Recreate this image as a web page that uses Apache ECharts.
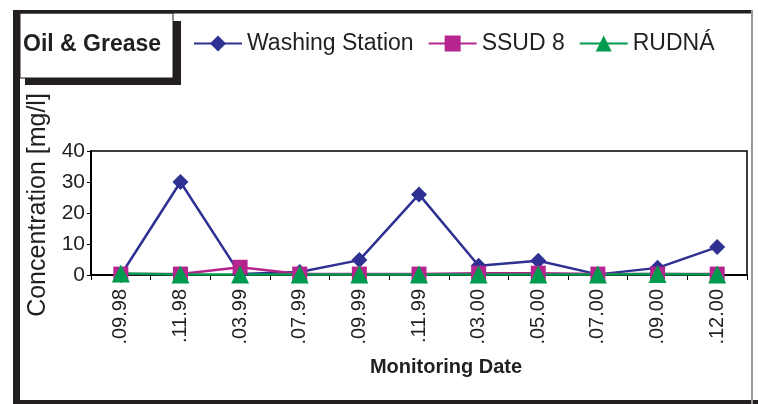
<!DOCTYPE html>
<html>
<head>
<meta charset="utf-8">
<script src="https://cdn.jsdelivr.net/npm/echarts@6/dist/echarts.min.js"></script>
<style>
  html, body { margin: 0; padding: 0; background: #fff; }
  #chart { width: 758px; height: 404px; }
</style>
</head>
<body>
<div id="chart"></div>
<script>
// monitoring dates (x axis)
const dates = ['.09.98', '.11.98', '.03.99', '.07.99', '.09.99', '.11.99', '.03.00', '.05.00', '.07.00', '.09.00', '.12.00']

// concentration [mg/l]
const washingStation = [0, 30, 0.3, 1, 4.8, 26, 3, 4.6, 0.2, 2.3, 9]
const ssud8 = [0.3, 0.3, 2.5, 0.3, 0.3, 0.3, 0.6, 0.6, 0.3, 0.3, 0.3]
const rudna = [0.5, 0.2, 0.2, 0.2, 0.2, 0.2, 0.2, 0.2, 0.2, 0.3, 0.2]

const yTicks = [0, 10, 20, 30, 40]

const font = 'Liberation Sans, Arial, sans-serif'
const ink = '#231f20'

const myChart = echarts.init(document.getElementById('chart'))

const line = (name, data, color, symbol, size) => ({
  name,
  type: 'line',
  data,
  symbol,
  symbolSize: size,
  showSymbol: true,
  itemStyle: { color },
  lineStyle: { color, width: 2.5 },
  emphasis: { disabled: true }
})

const option = {
  backgroundColor: '#fff',
  animation: false,
  textStyle: { fontFamily: font },
  grid: {
    left: 91, right: 11, top: 151, bottom: 129,
    show: true, borderColor: '#000', borderWidth: 1.5
  },
  legend: {
    left: 188,
    top: 27,
    itemWidth: 48,
    itemHeight: 20,
    itemGap: 14,
    textStyle: { fontSize: 23, color: ink, fontFamily: font },
    data: ['Washing Station', 'SSUD 8', 'RUDNÁ']
  },
  xAxis: {
    type: 'category',
    data: dates,
    boundaryGap: true,
    axisLine: { lineStyle: { color: '#000', width: 2 } },
    axisTick: { show: true, length: 5, inside: false, lineStyle: { color: '#000', width: 1 } },
    axisLabel: { rotate: 90, fontSize: 20, color: ink, margin: 14, fontFamily: font },
    splitLine: { show: false }
  },
  yAxis: {
    type: 'value',
    min: yTicks[0],
    max: yTicks[yTicks.length - 1],
    interval: 10,
    axisLine: { show: true, lineStyle: { color: '#000', width: 2 } },
    axisTick: { show: true, length: 4, lineStyle: { color: '#000' } },
    axisLabel: { fontSize: 21, color: ink, margin: 6, fontFamily: font },
    splitLine: { show: false }
  },
  graphic: [
    // outer frame
    { type: 'rect', shape: { x: 13, y: 10, width: 7, height: 394 }, style: { fill: '#231f20' }, z: 100 },
    { type: 'rect', shape: { x: 13, y: 10, width: 740, height: 3.5 }, style: { fill: '#231f20' }, z: 100 },
    { type: 'rect', shape: { x: 13, y: 400, width: 745, height: 4 }, style: { fill: '#231f20' }, z: 100 },
    { type: 'rect', shape: { x: 751, y: 10, width: 2, height: 394 }, style: { fill: '#999' }, z: 100 },
    // title box with shadow
    { type: 'rect', shape: { x: 25, y: 21, width: 156, height: 64 }, style: { fill: '#231f20' }, z: 90 },
    { type: 'rect', shape: { x: 20, y: 13, width: 153, height: 65 }, style: { fill: '#fff', stroke: '#231f20', lineWidth: 1 }, z: 91 },
    {
      type: 'text', x: 23, y: 45, z: 92,
      style: { text: 'Oil & Grease', font: 'bold 23px ' + font, fill: ink, textVerticalAlign: 'middle' }
    },
    {
      type: 'text', x: 38, y: 205, rotation: Math.PI / 2, z: 92,
      style: { text: 'Concentration [mg/l]', font: '25px ' + font, fill: ink, textAlign: 'center', textVerticalAlign: 'middle' }
    },
    {
      type: 'text', x: 446, y: 367, z: 92,
      style: { text: 'Monitoring Date', font: 'bold 20px ' + font, fill: ink, textAlign: 'center', textVerticalAlign: 'middle' }
    }
  ],
  series: [
    line('Washing Station', washingStation, '#2e3192', 'diamond', 16),
    line('SSUD 8', ssud8, '#b6258f', 'rect', 15),
    line('RUDNÁ', rudna, '#009a4e', 'triangle', 18)
  ]
}

myChart.setOption(option)
window.addEventListener('resize', () => myChart.resize())
</script>
</body>
</html>
